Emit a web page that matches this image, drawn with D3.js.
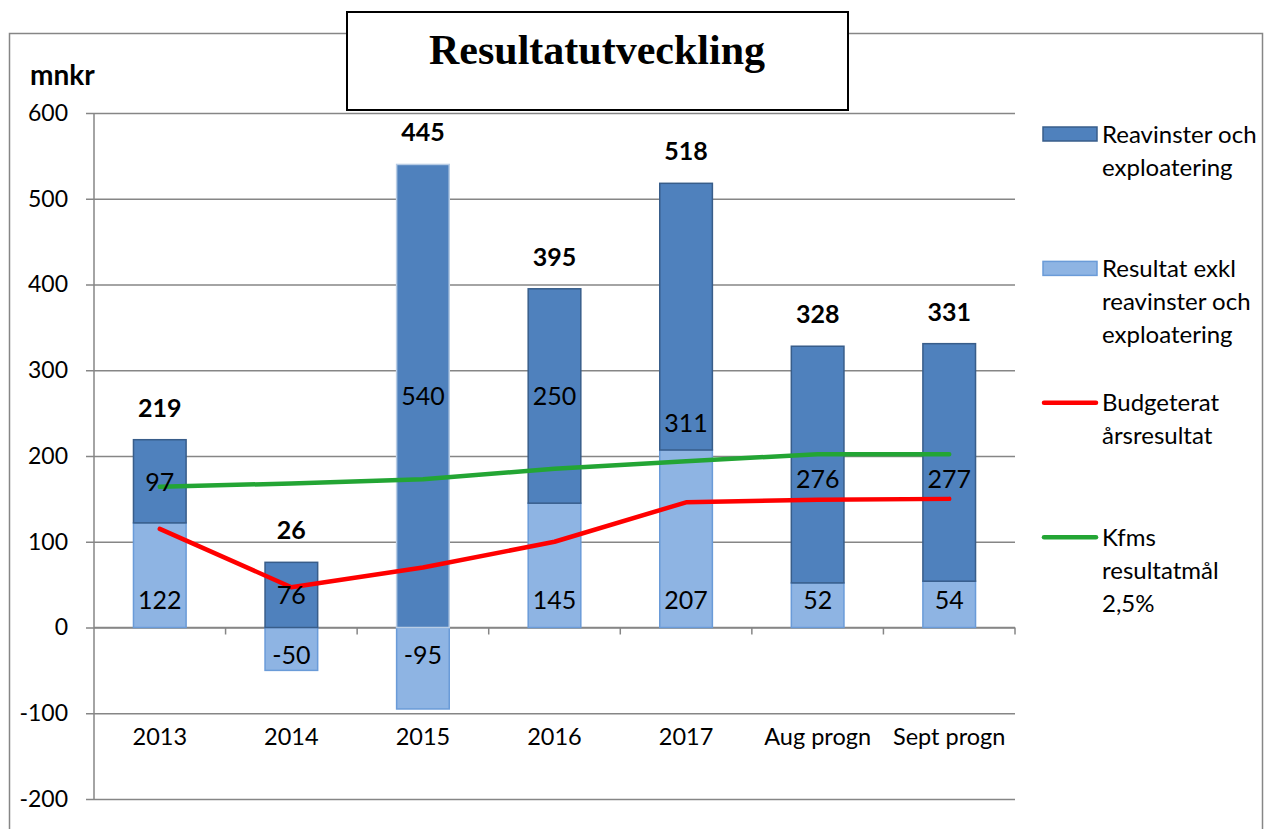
<!DOCTYPE html>
<html lang="sv">
<head>
    <meta charset="UTF-8">
    <title>Resultatutveckling</title>
    <script src="https://cdnjs.cloudflare.com/ajax/libs/d3/7.8.5/d3.min.js"></script>
    <style>
        body { margin: 0; background: #fff; }
        svg { font-family: Lato, "Open Sans", sans-serif; }
    </style>
</head>
<body>
<svg id="chart"></svg>

<script>
    // kategorier
    var categories = ["2013", "2014", "2015", "2016", "2017", "Aug progn", "Sept progn"];

    // staplar (mnkr)
    var resultatExkl = [122, -50, -95, 145, 207, 52, 54];   // ljusblå
    var reavinster = [97, 76, 540, 250, 311, 276, 277];     // mörkblå
    var totals = [219, 26, 445, 395, 518, 328, 331];

    // linjer (mnkr)
    var budgeterat = [115, 47, 70, 100, 146, 149, 150];
    var kfmsMal = [164, 168, 173, 185, 194, 202, 202];

    // var etiketterna för reavinster står (i mnkr, flyttade för hand i originalet)
    var reavinsterLabelAt = [170, 38, 270, 270, 239, 173, 173];

    var yTicks = [-200, -100, 0, 100, 200, 300, 400, 500, 600];

    var legendItems = [
        {type: "rect", fill: "#4f81bd", stroke: "#385d8a", lines: ["Reavinster och", "exploatering"]},
        {type: "rect", fill: "#8eb4e3", stroke: "#6a9bd8", lines: ["Resultat exkl", "reavinster och", "exploatering"]},
        {type: "line", stroke: "#ff0000", lines: ["Budgeterat", "årsresultat"]},
        {type: "line", stroke: "#23a534", lines: ["Kfms", "resultatmål", "2,5%"]}
    ];

    (function() {
        var width = 1265;
        var height = 829;
        var left = 94, right = 1015, plotTop = 113, plotBottom = 799;
        var gridColor = "#868686";

        var svg = d3.select("#chart")
            .attr("width", width)
            .attr("height", height);

        // yttre ram (nederkanten ligger utanför bilden)
        svg.append("rect")
            .attr("x", 9.5).attr("y", 33.5)
            .attr("width", 1253).attr("height", 900)
            .attr("fill", "none")
            .attr("stroke", gridColor)
            .attr("stroke-width", 1.5);

        var x = d3.scaleBand()
            .domain(categories)
            .range([left, right])
            .paddingInner(0.6)
            .paddingOuter(0.3);

        var y = d3.scaleLinear()
            .domain([-200, 600])
            .range([plotBottom, plotTop]);

        var cx = function(c) { return x(c) + x.bandwidth() / 2; };

        // stödlinjer
        svg.append("g")
            .attr("transform", "translate(" + left + ",0)")
            .call(d3.axisLeft(y).tickValues(yTicks).tickSize(-(right - left)).tickFormat(""))
            .call(function(g) {
                g.select(".domain").remove();
                g.selectAll("line").attr("stroke", gridColor).attr("stroke-width", 1.5);
            });

        // y-axel (vanligt bindestreck som minustecken, som i originalet)
        svg.append("g")
            .attr("transform", "translate(" + left + ",0)")
            .call(d3.axisLeft(y).tickValues(yTicks).tickSize(8).tickPadding(18).tickFormat(String))
            .call(function(g) {
                g.select(".domain").attr("stroke", gridColor).attr("stroke-width", 1.5)
                    .attr("d", "M0," + plotTop + "V" + plotBottom);
                g.selectAll("line").attr("stroke", gridColor).attr("stroke-width", 1.5);
                g.selectAll("text").attr("font-size", 23).attr("fill", "#000")
                    .attr("font-family", "Lato, sans-serif");
            });

        // x-axel vid noll, med streck mellan kategorierna
        var step = x.step();
        var bounds = categories.map(function(c) { return cx(c) + step / 2; });
        svg.append("line")
            .attr("x1", left).attr("x2", right)
            .attr("y1", y(0)).attr("y2", y(0))
            .attr("stroke", gridColor).attr("stroke-width", 1.5);
        svg.selectAll(".xtick").data(bounds).enter().append("line")
            .attr("class", "xtick")
            .attr("x1", function(d) { return d; }).attr("x2", function(d) { return d; })
            .attr("y1", y(0)).attr("y2", y(0) + 7)
            .attr("stroke", gridColor).attr("stroke-width", 1.5);

        svg.selectAll(".xlabel").data(categories).enter().append("text")
            .attr("class", "xlabel")
            .attr("x", cx)
            .attr("y", 745)
            .attr("text-anchor", "middle")
            .attr("font-size", 23.5)
            .text(function(d) { return d; });

        // staplar: ljus del från noll, mörk del staplad ovanpå den positiva delen
        var rows = categories.map(function(c, i) {
            var base = Math.max(resultatExkl[i], 0);
            return {
                cat: c,
                light: resultatExkl[i],
                dark: reavinster[i],
                darkFrom: base,
                darkTo: base + reavinster[i],
                total: totals[i],
                darkLabel: reavinsterLabelAt[i]
            };
        });

        svg.selectAll(".light").data(rows).enter().append("rect")
            .attr("class", "light")
            .attr("x", function(d) { return x(d.cat); })
            .attr("width", x.bandwidth())
            .attr("y", function(d) { return y(Math.max(d.light, 0)); })
            .attr("height", function(d) { return Math.abs(y(d.light) - y(0)); })
            .attr("fill", "#8eb4e3")
            .attr("stroke", "#6a9bd8")
            .attr("stroke-width", 1.5);

        svg.selectAll(".dark").data(rows).enter().append("rect")
            .attr("class", "dark")
            .attr("x", function(d) { return x(d.cat); })
            .attr("width", x.bandwidth())
            .attr("y", function(d) { return y(d.darkTo); })
            .attr("height", function(d) { return y(d.darkFrom) - y(d.darkTo); })
            .attr("fill", "#4f81bd")
            .attr("stroke", function(d) { return d.light < -60 ? "#b9cde5" : "#385d8a"; }) // 2015 har ljus kant i originalet
            .attr("stroke-width", 1.5);

        // linjer
        var line = d3.line()
            .x(function(d) { return cx(d.cat); })
            .y(function(d) { return y(d.v); });

        [[budgeterat, "#ff0000"], [kfmsMal, "#23a534"]].forEach(function(s) {
            svg.append("path")
                .datum(categories.map(function(c, i) { return {cat: c, v: s[0][i]}; }))
                .attr("d", line)
                .attr("fill", "none")
                .attr("stroke", s[1])
                .attr("stroke-width", 4.5)
                .attr("stroke-linecap", "round")
                .attr("stroke-linejoin", "round");
        });

        // etiketter
        svg.selectAll(".lightLabel").data(rows).enter().append("text")
            .attr("class", "lightLabel")
            .attr("x", function(d) { return cx(d.cat); })
            .attr("y", function(d) { return d.light >= 0 ? y(0) - 28 : y(0) + 27; })
            .attr("dy", "0.36em")
            .attr("text-anchor", "middle")
            .attr("font-size", 25)
            .text(function(d) { return d.light; });

        svg.selectAll(".darkLabel").data(rows).enter().append("text")
            .attr("class", "darkLabel")
            .attr("x", function(d) { return cx(d.cat); })
            .attr("y", function(d) { return y(d.darkLabel); })
            .attr("dy", "0.36em")
            .attr("text-anchor", "middle")
            .attr("font-size", 25)
            .text(function(d) { return d.dark; });

        svg.selectAll(".totalLabel").data(rows).enter().append("text")
            .attr("class", "totalLabel")
            .attr("x", function(d) { return cx(d.cat); })
            .attr("y", function(d) { return y(d.darkTo) - 32; })
            .attr("dy", "0.36em")
            .attr("text-anchor", "middle")
            .attr("font-size", 25)
            .attr("font-weight", "bold")
            .text(function(d) { return d.total; });

        // enhet
        svg.append("text")
            .attr("x", 30).attr("y", 85)
            .attr("font-size", 28)
            .attr("font-weight", "bold")
            .text("mnkr");

        // rubrik i egen ruta
        svg.append("rect")
            .attr("x", 347).attr("y", 12)
            .attr("width", 501).attr("height", 98)
            .attr("fill", "#fff")
            .attr("stroke", "#000")
            .attr("stroke-width", 2);
        svg.append("text")
            .attr("x", 597).attr("y", 64)
            .attr("text-anchor", "middle")
            .style("font-family", "'Liberation Serif', 'Times New Roman', serif")
            .attr("font-size", 42)
            .attr("font-weight", "bold")
            .text("Resultatutveckling");

        // legend
        var legend = svg.append("g").attr("transform", "translate(1043,0)");
        var lineGap = 33;
        legendItems.forEach(function(item, i) {
            var ly = 134 + i * 134.4;
            var g = legend.append("g").attr("transform", "translate(0," + ly + ")");
            if (item.type === "rect") {
                g.append("rect")
                    .attr("x", 0).attr("y", -7)
                    .attr("width", 54).attr("height", 14)
                    .attr("fill", item.fill)
                    .attr("stroke", item.stroke)
                    .attr("stroke-width", 1.5);
            } else {
                g.append("line")
                    .attr("x1", 1).attr("x2", 53)
                    .attr("stroke", item.stroke)
                    .attr("stroke-width", 4.5)
                    .attr("stroke-linecap", "round");
            }
            g.selectAll("text").data(item.lines).enter().append("text")
                .attr("x", 59)
                .attr("y", function(d, j) { return j * lineGap; })
                .attr("dy", "0.36em")
                .attr("font-size", 24)
                .text(function(d) { return d; });
        });
    })();
</script>
</body>
</html>
